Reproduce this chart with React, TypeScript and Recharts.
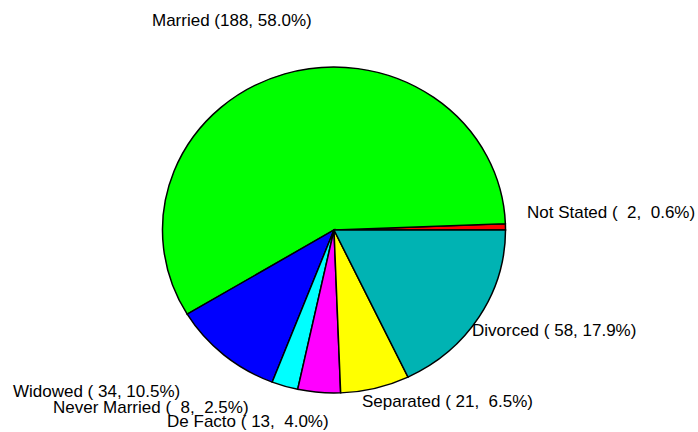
import { PieChart, Pie, Cell, Sector } from 'recharts'

// marital status counts, in the order they run round the pie from 3 o'clock
const categories = ['Not Stated', 'Married', 'Widowed', 'Never Married', 'De Facto', 'Separated', 'Divorced']
const counts = [2, 188, 34, 8, 13, 21, 58]

const COLORS = ['#ff0000', '#00ff00', '#0000ff', '#00ffff', '#ff00ff', '#ffff00', '#00b3b3']

const W = 698
const H = 432
const CX = 334
const CY = 230
const RX = 171.5
const RY = 163
const SQUASH = RY / RX

// where each label sits relative to the rim point at its mid angle
const LABEL_NUDGE: Record<string, [number, number]> = {
  'Not Stated': [21.5, -8.8],
  Married: [-132.8, -47.8],
  Widowed: [-210.8, 42.1],
  'Never Married': [-231.8, 26.8],
  'De Facto': [-152, 34.6],
  Separated: [-13.2, 18.8],
  Divorced: [-7.1, 19.1],
}

const total = counts.reduce((a, b) => a + b, 0)
const data = categories.map((name, i) => ({ name, value: counts[i] }))

function labelText(name: string, value: number) {
  const pct = ((value / total) * 100).toFixed(1).padStart(4, ' ')
  return `${name} (${String(value).padStart(3, ' ')}, ${pct}%)`
}

function SquashedSector(props: any) {
  return (
    <g transform={`translate(0 ${props.cy * (1 - SQUASH)}) scale(1 ${SQUASH})`}>
      <Sector {...props} stroke="#000" strokeWidth={1.5} />
    </g>
  )
}

function renderLabel(props: any) {
  const { midAngle, name, value } = props
  const rad = (midAngle * Math.PI) / 180
  const px = CX + RX * Math.cos(rad)
  const py = CY - RY * Math.sin(rad)
  const [dx, dy] = LABEL_NUDGE[name] ?? [0, 0]
  return (
    <text
      x={px + dx}
      y={py + dy}
      fill="#000"
      fontSize={17}
      fontFamily="Arial, 'Liberation Sans', sans-serif"
      textAnchor="start"
      xmlSpace="preserve"
      style={{ whiteSpace: 'pre' }}
    >
      {labelText(name, value)}
    </text>
  )
}

export default function App() {
  return (
    <div style={{ position: 'fixed', left: 0, top: 0, width: W, height: H, background: '#fff' }}>
      <PieChart width={W} height={H} margin={{ top: 0, right: 0, bottom: 0, left: 0 }}>
        <Pie
          data={data}
          dataKey="value"
          nameKey="name"
          cx={CX}
          cy={CY}
          outerRadius={RX}
          startAngle={0}
          endAngle={360}
          stroke="#000"
          strokeWidth={1.5}
          shape={SquashedSector}
          label={renderLabel}
          labelLine={false}
          isAnimationActive={false}
        >
          {data.map((d, i) => (
            <Cell key={d.name} fill={COLORS[i]} />
          ))}
        </Pie>
      </PieChart>
    </div>
  )
}
